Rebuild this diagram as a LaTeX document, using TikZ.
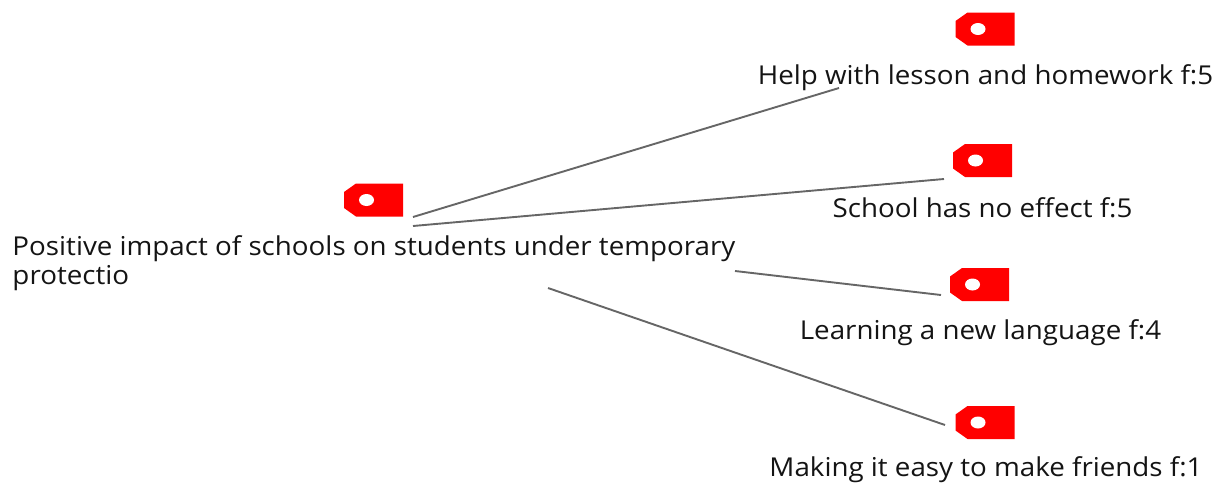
\documentclass[tikz,border=0pt]{standalone}
\usepackage{fontspec}
\setmainfont[FakeStretch=1.067]{Open Sans}
\tikzset{
  x=1pt,y=-1pt,
  tagbox/.style={minimum width=59pt,minimum height=33pt,inner sep=0pt,outer sep=0pt},
  lbl/.style={inner sep=0pt,outer sep=0pt,text=black!92,font=\fontsize{26}{29}\selectfont},
  link/.style={draw=black!60,line width=1.9pt},
  pics/pricetag/.style={code={
    \fill[red] (-17.5,-16.5) -- (29.5,-16.5) -- (29.5,16.5) -- (-17.5,16.5) -- (-29.5,8) -- (-29.5,-8) -- cycle;
    \fill[white] (-7,0) ellipse [x radius=7.5,y radius=6];
  }}
}
\begin{document}
\begin{tikzpicture}
\useasboundingbox (0,0) rectangle (1220,482);
\node[tagbox] (t0) at (373.5,200) {}; \pic at (t0.center) {pricetag};
\node[tagbox] (t1) at (985,29) {}; \pic at (t1.center) {pricetag};
\node[tagbox] (t2) at (982.5,160.5) {}; \pic at (t2.center) {pricetag};
\node[tagbox] (t3) at (979.5,284.5) {}; \pic at (t3.center) {pricetag};
\node[tagbox] (t4) at (985,422.5) {}; \pic at (t4.center) {pricetag};
\node[lbl,anchor=west,align=left] (r) at (12.5,263) {Positive impact of schools on students under temporary\\protectio};
\node[lbl] (l1) at (985.5,77.5) {Help with lesson and homework f:5};
\node[lbl] (l2) at (982.5,207.5) {School has no effect f:5};
\node[lbl] (l3) at (980.5,333) {Learning a new language f:4};
\node[lbl] (l4) at (986,470) {Making it easy to make friends f:1};
\coordinate (a1) at (413,217);
\coordinate (a2) at (413,226);
\coordinate (a3) at (735,271);
\coordinate (a4) at (548,288);
\coordinate (b1) at (839,88);
\coordinate (b2) at (944,179);
\coordinate (b3) at (941,295);
\coordinate (b4) at (945,425);
\draw[link] (a1) -- (b1);
\draw[link] (a2) -- (b2);
\draw[link] (a3) -- (b3);
\draw[link] (a4) -- (b4);
\end{tikzpicture}
\end{document}
